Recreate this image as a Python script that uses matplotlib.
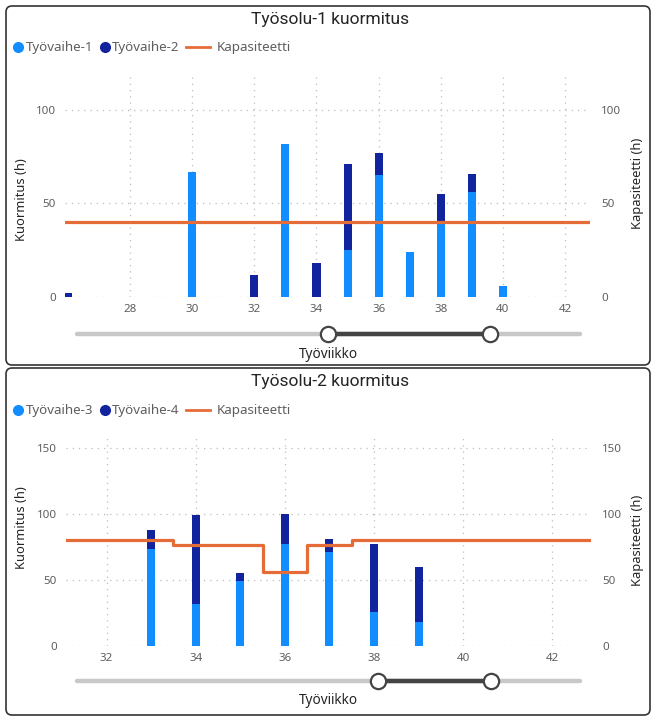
import matplotlib.pyplot as plt
from matplotlib.patches import FancyBboxPatch

plt.rcParams['font.family'] = ['Noto Sans', 'DejaVu Sans']

# Työsolu-1 data
weeks_1 = [26, 30, 32, 33, 34, 35, 36, 37, 38, 39, 40]
vaihe_1 = [0, 67, 0, 82, 0, 25, 65, 24, 40, 56, 6]
vaihe_2 = [2, 0, 12, 0, 18, 46, 12, 0, 15, 10, 0]
cap_weeks_1 = [25, 26, 27, 28, 29, 30, 31, 32, 33, 34, 35, 36, 37, 38, 39, 40, 41, 42, 43]
cap_1 = [40, 40, 40, 40, 40, 40, 40, 40, 40, 40, 40, 40, 40, 40, 40, 40, 40, 40, 40]

# Työsolu-2 data
weeks_2 = [33, 34, 35, 36, 37, 38, 39]
vaihe_3 = [73, 32, 49, 77, 71, 26, 18]
vaihe_4 = [15, 67, 6, 23, 10, 51, 42]
cap_weeks_2 = [31, 32, 33, 34, 35, 36, 37, 38, 39, 40, 41, 42, 43]
cap_2 = [80, 80, 80, 76, 76, 56, 76, 80, 80, 80, 80, 80, 80]

LIGHT = '#118DFF'
DARK = '#12239E'
ORANGE = '#E66C37'
TICK = '#605E5C'
TEXT = '#252423'

W, H = 660, 725
fig = plt.figure(figsize=(W / 100, H / 100), dpi=100)


def px_axes(left, right, top, bottom):
    return fig.add_axes([left / W, 1 - bottom / H, (right - left) / W, (bottom - top) / H])


def draw_chart(ax, weeks, a, b, cap_weeks, cap, xlim, ylim, yticks, bar_w):
    ax.set_facecolor('none')
    ax.bar(weeks, a, bar_w, color=LIGHT, zorder=2)
    ax.bar(weeks, b, bar_w, bottom=a, color=DARK, zorder=2)
    ax.step(cap_weeks, cap, where='mid', color=ORANGE, lw=2.3, zorder=3)
    ax.set_xlim(*xlim)
    ax.set_ylim(*ylim)
    ax.set_xticks(range(28, 43, 2) if xlim[0] < 28 else range(32, 43, 2))
    ax.set_yticks(yticks)
    ax.grid(True, linestyle=(0, (1, 4)), color='#BDBDBD', lw=0.9, zorder=0)
    for s in ax.spines.values():
        s.set_visible(False)
    ax.tick_params(length=0, labelsize=8.3, labelcolor=TICK)
    ax.tick_params(axis='x', pad=5)
    ax.tick_params(axis='y', pad=6.5)
    ax2 = ax.twinx()
    ax2.set_ylim(*ylim)
    ax2.set_yticks(yticks)
    for s in ax2.spines.values():
        s.set_visible(False)
    ax2.tick_params(length=0, labelsize=8.3, labelcolor=TICK, pad=8)


ax_top = px_axes(65, 590, 75, 297)
draw_chart(ax_top, weeks_1, vaihe_1, vaihe_2, cap_weeks_1, cap_1,
           (25.91, 42.80), (0, 118.7), [0, 50, 100], 0.26)

ax_bot = px_axes(66, 591, 437, 646)
draw_chart(ax_bot, weeks_2, vaihe_3, vaihe_4, cap_weeks_2, cap_2,
           (31.09, 42.87), (0, 158), [0, 50, 100, 150], 0.18)

# overlay for frames, titles, legends and sliders
ov = fig.add_axes([0, 0, 1, 1], zorder=-1)
ov.set_xlim(0, W)
ov.set_ylim(H, 0)
ov.axis('off')

panels = [
    dict(top=6, bottom=365, title='Työsolu-1 kuormitus', names=('Työvaihe-1', 'Työvaihe-2'),
         leg_y=47, ylab_l=200, ylab_r=183, slider_y=334, handles=(328, 490), lab_y=354),
    dict(top=368, bottom=715, title='Työsolu-2 kuormitus', names=('Työvaihe-3', 'Työvaihe-4'),
         leg_y=410, ylab_l=528, ylab_r=540, slider_y=681, handles=(378, 491), lab_y=701),
]

for p in panels:
    ov.add_patch(FancyBboxPatch((6, p['top']), 644, p['bottom'] - p['top'],
                                boxstyle='round,pad=0,rounding_size=6',
                                fc='none', ec='#333333', lw=1.2))
    ov.text(330, p['top'] + 13, p['title'], ha='center', va='center',
            fontsize=12.5, color=TEXT, family=['Roboto', 'DejaVu Sans'])
    y = p['leg_y']
    ov.plot(18, y, 'o', ms=7, color=LIGHT)
    ov.text(26, y, p['names'][0], va='center', fontsize=9.6, color=TICK)
    ov.plot(105, y, 'o', ms=7, color=DARK)
    ov.text(112, y, p['names'][1], va='center', fontsize=9.6, color=TICK)
    ov.plot([186, 210], [y, y], color=ORANGE, lw=2)
    ov.text(217, y, 'Kapasiteetti', va='center', fontsize=9.6, color=TICK)
    ov.text(22, p['ylab_l'], 'Kuormitus (h)', rotation=90, ha='center', va='center',
            fontsize=9.3, color=TEXT)
    ov.text(638, p['ylab_r'], 'Kapasiteetti (h)', rotation=90, ha='center', va='center',
            fontsize=9.3, color=TEXT)
    sy = p['slider_y']
    h1, h2 = p['handles']
    ov.plot([77, 580], [sy, sy], color='#C8C8C8', lw=3.2, solid_capstyle='round')
    ov.plot([h1, h2], [sy, sy], color='#444444', lw=3.2)
    ov.plot([h1, h2], [sy, sy], 'o', ms=11, mfc='white', mec='#444444', mew=1.6)
    ov.text(328, p['lab_y'], 'Työviikko', ha='center', va='center', fontsize=9.8, color=TEXT)

fig.savefig('out.png', dpi=100)
